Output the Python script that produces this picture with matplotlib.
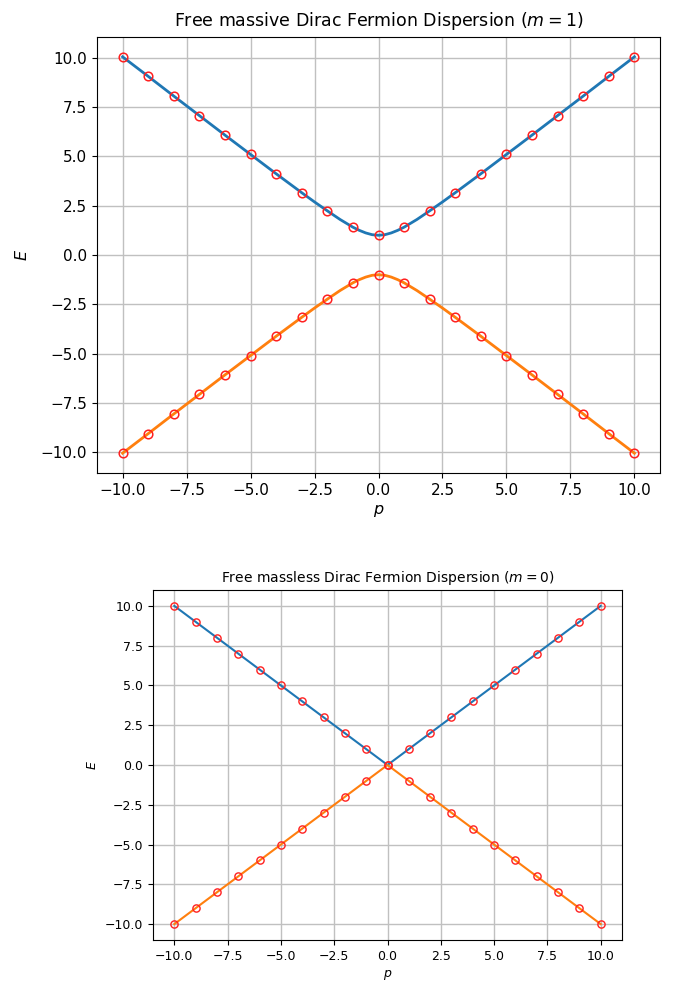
import matplotlib
matplotlib.use("Agg")
import matplotlib.pyplot as plt

# marker data (integer momenta)
p_pts = [-10, -9, -8, -7, -6, -5, -4, -3, -2, -1, 0, 1, 2, 3, 4, 5, 6, 7, 8, 9, 10]
E_massive = [10.05, 9.06, 8.06, 7.07, 6.08, 5.10, 4.12, 3.16, 2.24, 1.41, 1.00,
             1.41, 2.24, 3.16, 4.12, 5.10, 6.08, 7.07, 8.06, 9.06, 10.05]
E_massless = [10, 9, 8, 7, 6, 5, 4, 3, 2, 1, 0, 1, 2, 3, 4, 5, 6, 7, 8, 9, 10]

# curve samples for the massive branch (denser near p = 0)
p_line = [-10, -9, -8, -7, -6, -5, -4, -3, -2.5, -2, -1.5, -1, -0.75, -0.5, -0.25, 0,
          0.25, 0.5, 0.75, 1, 1.5, 2, 2.5, 3, 4, 5, 6, 7, 8, 9, 10]
E_line = [10.05, 9.06, 8.06, 7.07, 6.08, 5.10, 4.12, 3.16, 2.69, 2.24, 1.80, 1.41, 1.25, 1.12, 1.03, 1.00,
          1.03, 1.12, 1.25, 1.41, 1.80, 2.24, 2.69, 3.16, 4.12, 5.10, 6.08, 7.07, 8.06, 9.06, 10.05]

W, H = 676, 983
fig = plt.figure(figsize=(W / 100, H / 100), dpi=100)

def rect(l, r, t, b):
    return [l / W, 1 - b / H, (r - l) / W, (b - t) / H]

ax1 = fig.add_axes(rect(97, 660, 37, 473))
ax2 = fig.add_axes(rect(153, 622, 590, 940))

ticks = [-10, -7.5, -5, -2.5, 0, 2.5, 5, 7.5, 10]
mk = dict(linestyle="none", marker="o", mfc="none", mec="#ff2020", zorder=3)

# top panel
ax1.plot(p_line, E_line, color="C0", lw=2, zorder=2)
ax1.plot(p_line, [-e for e in E_line], color="C1", lw=2, zorder=2)
ax1.plot(p_pts, E_massive, ms=6.2, mew=1.1, **mk)
ax1.plot(p_pts, [-e for e in E_massive], ms=6.2, mew=1.1, **mk)
ax1.grid(True, color="#c0c0c0", lw=1)
ax1.set_axisbelow(True)
ax1.set_title("Free massive Dirac Fermion Dispersion ($m = 1$)", fontsize=12.5, pad=8)
ax1.set_xlabel("$p$", fontsize=11.5)
ax1.set_ylabel("$E$", fontsize=11.5, labelpad=8)
ax1.tick_params(labelsize=11)
ax1.set_xticks(ticks)
ax1.set_yticks(ticks)

# bottom panel
ax2.plot(p_pts, E_massless, color="C0", lw=1.5, zorder=2)
ax2.plot(p_pts, [-e for e in E_massless], color="C1", lw=1.5, zorder=2)
ax2.plot(p_pts, E_massless, ms=5.2, mew=1.0, **mk)
ax2.plot(p_pts, [-e for e in E_massless], ms=5.2, mew=1.0, **mk)
ax2.grid(True, color="#c0c0c0", lw=1)
ax2.set_axisbelow(True)
ax2.set_title("Free massless Dirac Fermion Dispersion ($m = 0$)", fontsize=10, pad=6)
ax2.set_xlabel("$p$", fontsize=9)
ax2.set_ylabel("$E$", fontsize=9)
ax2.tick_params(labelsize=9)
ax2.set_xticks(ticks)
ax2.set_yticks(ticks)

fig.savefig("out.png", dpi=100)
